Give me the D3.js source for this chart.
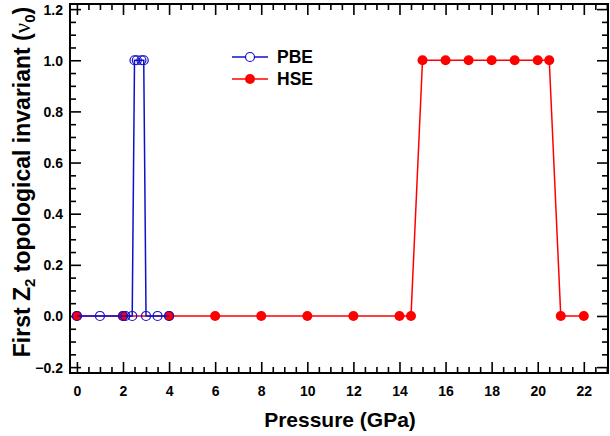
<!DOCTYPE html>
<html>
<head>
<meta charset="utf-8">
<script src="https://cdn.jsdelivr.net/npm/d3@7"></script>
<style>
  html, body { margin: 0; padding: 0; background: #fff; }
  svg { display: block; }
  text { font-family: "Liberation Sans", Arial, sans-serif; font-weight: bold; fill: #000; }
</style>
</head>
<body>
<svg id="chart" width="610" height="436"></svg>
<script>
// Pressure sampling and Z2 invariant for the two functionals
const pbePressure = [0, 1, 2, 2.1, 2.4, 2.5, 2.6, 2.8, 2.9, 3.0, 3.5, 4];
const pbeNu0      = [0, 0, 0, 0,   0,   1,   1,   1,   1,   0,   0,   0];
const hsePressure = [0, 2, 4, 6, 8, 10, 12, 14, 14.5, 15, 16, 17, 18, 19, 20, 20.5, 21, 22];
const hseNu0      = [0, 0, 0, 0, 0, 0,  0,  0,  0,    1,  1,  1,  1,  1,  1,  1,    0,  0];

const xTickValues = [0, 2, 4, 6, 8, 10, 12, 14, 16, 18, 20, 22];
const yTickValues = [-0.2, 0.0, 0.2, 0.4, 0.6, 0.8, 1.0, 1.2];
const seriesNames = ["PBE", "HSE"];

const svg = d3.select("#chart");
const frameL = 70, frameR = 608, frameT = 4, frameB = 373;

const x = d3.scaleLinear().domain([-0.3, 23.05]).range([frameL, frameR]);
const y = d3.scaleLinear().domain([-0.223, 1.22]).range([frameB, frameT]);

const xMinor = d3.range(0, 23.01, 0.5).filter(v => !xTickValues.includes(v));
const yMinor = d3.range(-0.2, 1.2001, 0.05).map(v => +v.toFixed(2))
  .filter(v => !yTickValues.some(t => Math.abs(t - v) < 1e-6));

const MAJ = 11, MIN = 6;

// Frame axes: ticks point inward on all four sides
function axisGroup(axisFn, transform, len, values, labels) {
  const g = svg.append("g").attr("transform", transform)
    .call(axisFn.tickValues(values).tickSizeInner(-len).tickSizeOuter(0)
      .tickFormat(labels ? labels : ""));
  g.select(".domain").remove();
  g.selectAll(".tick line").attr("stroke", "#000").attr("stroke-width", 1.6);
  return g;
}

// bottom
const gxb = axisGroup(d3.axisBottom(x), `translate(0,${frameB})`, MAJ, xTickValues, d => d3.format("d")(d));
gxb.selectAll(".tick text").attr("dy", 0).attr("y", 23).style("font-size", "14px");
axisGroup(d3.axisBottom(x), `translate(0,${frameB})`, MIN, xMinor, null);
// top
axisGroup(d3.axisTop(x), `translate(0,${frameT})`, MAJ, xTickValues, null);
axisGroup(d3.axisTop(x), `translate(0,${frameT})`, MIN, xMinor, null);
// left
const gyl = axisGroup(d3.axisLeft(y), `translate(${frameL},0)`, MAJ, yTickValues, d => d3.format(".1f")(d));
gyl.selectAll(".tick text").attr("x", -7).attr("dy", "0.35em").style("font-size", "14px");
axisGroup(d3.axisLeft(y), `translate(${frameL},0)`, MIN, yMinor, null);
// right
axisGroup(d3.axisRight(y), `translate(${frameR},0)`, MAJ, yTickValues, null);
axisGroup(d3.axisRight(y), `translate(${frameR},0)`, MIN, yMinor, null);
svg.selectAll(".tick text").style("font-family", "'Liberation Sans', Arial, sans-serif").style("font-weight", "bold").attr("fill", "#000");

// frame
svg.append("rect")
  .attr("x", frameL).attr("y", frameT)
  .attr("width", frameR - frameL).attr("height", frameB - frameT)
  .attr("fill", "none").attr("stroke", "#000").attr("stroke-width", 2);

const line = d3.line().x(d => x(d[0])).y(d => y(d[1]));
const hse = hsePressure.map((p, i) => [p, hseNu0[i]]);
const pbe = pbePressure.map((p, i) => [p, pbeNu0[i]]);

const RED = "#ff0000", BLUE = "#1010c8";

// HSE series
svg.append("path").datum(hse).attr("d", line)
  .attr("fill", "none").attr("stroke", RED).attr("stroke-width", 1.5);
svg.append("g").selectAll("circle").data(hse).join("circle")
  .attr("cx", d => x(d[0])).attr("cy", d => y(d[1])).attr("r", 5)
  .attr("fill", RED);

// PBE series
svg.append("path").datum(pbe).attr("d", line)
  .attr("fill", "none").attr("stroke", BLUE).attr("stroke-width", 1.5);
svg.append("g").selectAll("circle").data(pbe).join("circle")
  .attr("cx", d => x(d[0])).attr("cy", d => y(d[1])).attr("r", 4.5)
  .attr("fill", "none").attr("stroke", BLUE).attr("stroke-width", 1.2);

// legend
const legend = svg.append("g");
const legendRows = [
  { name: seriesNames[0], color: BLUE, filled: false, yy: 57 },
  { name: seriesNames[1], color: RED, filled: true, yy: 79 }
];
legendRows.forEach(r => {
  legend.append("line").attr("x1", 232).attr("x2", 268).attr("y1", r.yy).attr("y2", r.yy)
    .attr("stroke", r.color).attr("stroke-width", 1.5);
  legend.append("circle").attr("cx", 250).attr("cy", r.yy).attr("r", r.filled ? 5 : 4.5)
    .attr("fill", r.filled ? r.color : "#fff").attr("stroke", r.color).attr("stroke-width", r.filled ? 0 : 1.2);
  legend.append("text").attr("x", 277).attr("y", r.yy + 6).style("font-size", "17.5px").text(r.name);
});

// axis titles
svg.append("text").attr("x", 340).attr("y", 427).attr("text-anchor", "middle")
  .style("font-size", "21px").text("Pressure (GPa)");

const yt = svg.append("text")
  .attr("transform", "translate(30,182) rotate(-90)")
  .attr("text-anchor", "middle").style("font-size", "23px");
yt.append("tspan").text("First Z");
yt.append("tspan").attr("dy", 5).style("font-size", "15px").text("2");
yt.append("tspan").attr("dy", -5).text(" topological invariant (");
yt.append("tspan").style("font-family", "'Liberation Serif', serif").style("font-weight", "normal").text("ν");
yt.append("tspan").attr("dy", 5).style("font-size", "15px").text("0");
yt.append("tspan").attr("dy", -5).text(")");
</script>
</body>
</html>
